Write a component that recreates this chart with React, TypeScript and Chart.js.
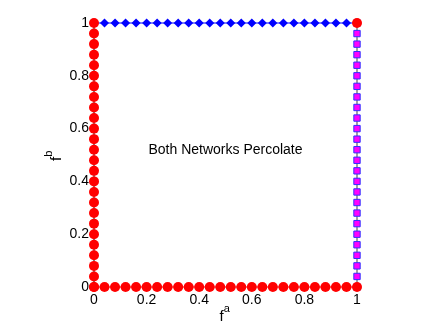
import React, { useEffect, useRef } from "react";
import { Chart, registerables } from "chart.js";

Chart.register(...registerables);

const fValues = [0, 0.04, 0.08, 0.12, 0.16, 0.2, 0.24, 0.28, 0.32, 0.36, 0.4, 0.44, 0.48, 0.52, 0.56, 0.6, 0.64, 0.68, 0.72, 0.76, 0.8, 0.84, 0.88, 0.92, 0.96, 1];
const tickValues = [0, 0.2, 0.4, 0.6, 0.8, 1];
const tickLabels = ["0", "0.2", "0.4", "0.6", "0.8", "1"];
const regionLabel = "Both Networks Percolate";
const regionPos = { x: 0.5, y: 0.52 };
const xTitle = { base: "f", sup: "a" };
const yTitle = { base: "f", sup: "b" };
const cornerPoint = { x: 1, y: 1 };

const FONT = "'Liberation Sans', Arial, Helvetica, sans-serif";

export default function App() {
  const ref = useRef<HTMLCanvasElement | null>(null);
  useEffect(() => {
    if (!ref.current) return;
    const topEdge = fValues.map((v) => ({ x: v, y: 1 }));
    const rightEdge = fValues.map((v) => ({ x: 1, y: v }));
    const leftEdge = fValues.map((v) => ({ x: 0, y: v }));
    const bottomEdge = fValues.map((v) => ({ x: v, y: 0 }));

    const textPlugin = {
      id: "texts",
      afterDraw(chart: any) {
        const { ctx, chartArea, scales } = chart;
        ctx.save();
        ctx.fillStyle = "#000";
        ctx.font = `14px ${FONT}`;
        ctx.textAlign = "center";
        ctx.textBaseline = "middle";
        ctx.fillText(regionLabel, scales.x.getPixelForValue(regionPos.x), scales.y.getPixelForValue(regionPos.y));
        // x title
        const cx = (chartArea.left + chartArea.right) / 2;
        ctx.textAlign = "left";
        ctx.textBaseline = "alphabetic";
        ctx.font = `15px ${FONT}`;
        const fw = ctx.measureText(xTitle.base).width;
        ctx.fillText(xTitle.base, cx - 6, chartArea.bottom + 34);
        ctx.font = `11px ${FONT}`;
        ctx.fillText(xTitle.sup, cx - 6 + fw, chartArea.bottom + 25);
        // y title
        const cy = (chartArea.top + chartArea.bottom) / 2;
        ctx.translate(chartArea.left - 33, cy);
        ctx.rotate(-Math.PI / 2);
        ctx.font = `15px ${FONT}`;
        ctx.fillText(yTitle.base, -6, 0);
        ctx.font = `11px ${FONT}`;
        ctx.fillText(yTitle.sup, -6 + fw, -9);
        ctx.restore();
      },
    };

    const chart = new Chart(ref.current, {
      type: "scatter",
      data: {
        datasets: [
          {
            data: [cornerPoint],
            pointStyle: "circle",
            pointRadius: 5,
            backgroundColor: "#ff0000",
            borderColor: "#ff0000",
            borderWidth: 0,
            order: 0,
          } as any,
          {
            data: leftEdge,
            showLine: true,
            borderColor: "#000000",
            borderWidth: 1,
            pointStyle: "circle",
            pointRadius: 5,
            pointBackgroundColor: "#ff0000",
            pointBorderColor: "#ff0000",
            pointBorderWidth: 0,
            order: 0,
          },
          {
            data: bottomEdge,
            showLine: true,
            borderColor: "#ff0000",
            borderWidth: 1,
            pointStyle: "circle",
            pointRadius: 5,
            pointBackgroundColor: "#ff0000",
            pointBorderColor: "#ff0000",
            pointBorderWidth: 0,
            order: 0,
          },
          {
            data: topEdge,
            showLine: true,
            borderColor: "#0000ff",
            borderWidth: 1,
            pointStyle: "rectRot",
            pointRadius: 4.5,
            pointBackgroundColor: "#0000ff",
            pointBorderColor: "#0000ff",
            pointBorderWidth: 0,
            order: 1,
          },
          {
            data: rightEdge,
            showLine: true,
            borderColor: "#808080",
            borderWidth: 1.5,
            pointStyle: "rect",
            pointRadius: 4.5,
            pointBackgroundColor: "#ff00ff",
            pointBorderColor: "#3030ff",
            pointBorderWidth: 1,
            order: 2,
          },
        ],
      },
      options: {
        animation: false,
        responsive: false,
        clip: false as any,
        layout: { padding: { left: 0, right: 79, top: 23, bottom: 0 } },
        plugins: { legend: { display: false }, tooltip: { enabled: false } },
        scales: {
          x: {
            type: "linear",
            min: 0,
            max: 1,
            grid: { display: false, drawTicks: false },
            border: { display: false },
            afterFit: (s: any) => { s.height = 41; },
            afterBuildTicks: (s: any) => { s.ticks = tickValues.map((v) => ({ value: v })); },
            ticks: {
              padding: 5,
              color: "#000",
              font: { family: FONT, size: 14 },
              callback: (v: any) => tickLabels[tickValues.indexOf(Number(v))] ?? "",
            },
          },
          y: {
            type: "linear",
            min: 0,
            max: 1,
            grid: { display: false, drawTicks: false },
            border: { display: false },
            afterFit: (s: any) => { s.width = 94; },
            afterBuildTicks: (s: any) => { s.ticks = tickValues.map((v) => ({ value: v })); },
            ticks: {
              padding: 5,
              color: "#000",
              font: { family: FONT, size: 14 },
              callback: (v: any) => tickLabels[tickValues.indexOf(Number(v))] ?? "",
            },
          },
        },
      },
      plugins: [textPlugin],
    });
    return () => chart.destroy();
  }, []);
  return (
    <div style={{ position: "fixed", left: 0, top: 0, width: 436, height: 328, background: "#fff" }}>
      <canvas ref={ref} width={436} height={328} style={{ width: 436, height: 328, display: "block" }} />
    </div>
  );
}
